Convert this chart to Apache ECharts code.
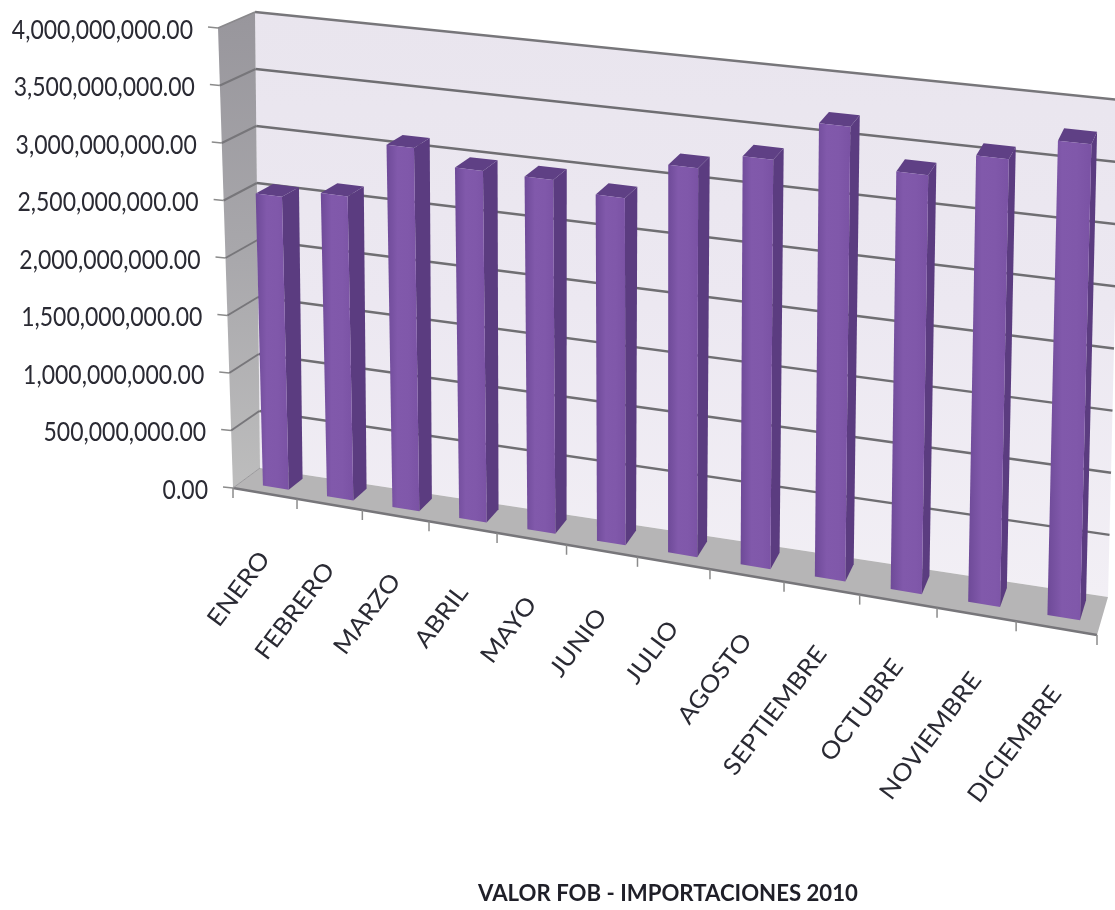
<!DOCTYPE html>
<html><head><meta charset="utf-8">
<style>html,body{margin:0;padding:0;background:#fff}#c{width:1115px;height:910px}</style>
<script src="https://cdn.jsdelivr.net/npm/echarts@6/dist/echarts.min.js"></script>
</head><body><div id="c"></div>
<script>
const categories = ['ENERO','FEBRERO','MARZO','ABRIL','MAYO','JUNIO','JULIO','AGOSTO','SEPTIEMBRE','OCTUBRE','NOVIEMBRE','DICIEMBRE'];
const valorFob = [2540000000,2615000000,3100000000,2975000000,2970000000,2890000000,3210000000,3350000000,3690000000,3370000000,3570000000,3760000000];
const yTicks = [0,500000000,1000000000,1500000000,2000000000,2500000000,3000000000,3500000000,4000000000];
const titleText = 'VALOR FOB - IMPORTACIONES 2010';

// box corners of the 3D frame [x,y]: f=front, b=back; l/r, b(ottom)/t(op)
const FRAME = {
  fbl:[233,488], fbr:[1097,635], ftl:[218,28], ftr:[1110,123],
  bbl:[260,468], bbr:[1108,597], btl:[255,12], btr:[1120,100]
};
const WARP = 1.136, BAR_U0 = 0.345, BAR_U1 = 0.75, D0 = 0.3, D1 = 0.83;
const lerp = (a,b,t)=>[a[0]+(b[0]-a[0])*t, a[1]+(b[1]-a[1])*t];
function proj(u,v,d){
  const t = u/(u+WARP*(1-u));
  const F=FRAME;
  const front = lerp(lerp(F.fbl,F.fbr,t), lerp(F.ftl,F.ftr,t), v);
  const back  = lerp(lerp(F.bbl,F.bbr,t), lerp(F.btl,F.btr,t), v);
  return lerp(front,back,d);
}
// pixel from the cartesian system -> unit coordinates of the frame
function unit(p,cs){ return [(p[0]-cs.x)/cs.width, (cs.y+cs.height-p[1])/cs.height]; }
const poly=(pts,fill)=>({type:'polygon',shape:{points:pts},style:{fill:fill}});
const seg=(a,b,col,w)=>({type:'line',shape:{x1:a[0],y1:a[1],x2:b[0],y2:b[1]},style:{stroke:col,lineWidth:w,fill:null}});
const grad=(x,y,x2,y2,c)=>new echarts.graphic.LinearGradient(x,y,x2,y2,c.map((s,i)=>({offset:i/(c.length-1),color:s})));
const LABEL_COLOR='#2a2a33', FONT='Lato';

function rWalls(params,api){
  const P=proj;
  return {type:'group',children:[
    poly([P(0,0,1),P(1,0,1),P(1,1,1),P(0,1,1)],grad(0,0,0,1,['#e9e5ee','#ece8f1','#f2eff5'])),
    poly([P(0,0,0),P(0,0,1),P(0,1,1),P(0,1,0)],grad(0,0,0,1,['#98969c','#a8a7ab','#bdbdbd'])),
    poly([P(0,0,0),P(1,0,0),P(1,0,1),P(0,0,1)],'#b6b5b6'),
    seg(P(0,1,1),P(1,1,1),'#77767a',2.5),
    seg(P(0,1,0),P(0,1,1),'#8a898c',1.5),
    seg(P(0,0,0),P(1,0,0),'#77767a',2.5),
    seg(P(0,0,0),P(0,0,1),'#9a999c',1)
  ]};
}
function rGrid(params,api){
  const cs=params.coordSys, v=unit(api.coord([0,api.value(0)]),cs)[1];
  const a=proj(0,v,0), b=proj(0,v,1), c=proj(1,v,1);
  const kids=[seg([a[0]-10,a[1]-1],a,'#8b8b8b',1.5)];
  if(v>0&&v<1) kids.push(seg(a,b,'#77767a',2), seg(b,c,'#6f6e72',2.5));
  return {type:'group',children:kids};
}
function rXTicks(params,api){
  const i=api.value(0), u=i/categories.length, a=proj(u,0,0);
  return seg(a,[a[0],a[1]+10],'#8b8b8b',1.5);
}
function rBar(params,api){
  const cs=params.coordSys, p=api.coord([api.value(0),api.value(1)]);
  const bw=api.size([1,0])[0];
  const v=unit(p,cs)[1], u0=(p[0]-bw/2-cs.x+bw*BAR_U0)/cs.width, u1=(p[0]-bw/2-cs.x+bw*BAR_U1)/cs.width;
  const f=(u,vv)=>proj(u,vv,D0), k=(u,vv)=>proj(u,vv,D1);
  return {type:'group',children:[
    poly([f(u1,0),k(u1,0),k(u1,v),f(u1,v)],'#5b3c80'),
    poly([f(u0,v),f(u1,v),k(u1,v),k(u0,v)],'#5f4085'),
    poly([f(u0,0),f(u1,0),f(u1,v),f(u0,v)],grad(0,0,1,0,['#6e4a98','#8159ab','#8058aa','#7a52a4']))
  ]};
}
const fmt=n=>n.toLocaleString('en-US',{minimumFractionDigits:2,maximumFractionDigits:2});
function rYLabel(params,api){
  const cs=params.coordSys, val=api.value(0), v=unit(api.coord([0,val]),cs)[1], a=proj(0,v,0);
  return {type:'text',x:a[0]-25,y:a[1]+2,scaleY:1.2,style:{text:fmt(val),align:'right',verticalAlign:'middle',fontFamily:FONT,fontSize:23,fill:LABEL_COLOR}};
}
function rXLabel(params,api){
  const cs=params.coordSys, i=api.value(0);
  const p=api.coord([i,0]), u=(p[0]-cs.x)/cs.width, a=proj(u,0,0);
  return {type:'text',x:a[0],y:a[1]+61,scaleX:1.08,rotation:53*Math.PI/180,
    style:{text:categories[i],align:'right',verticalAlign:'middle',fontFamily:FONT,fontSize:24,fill:LABEL_COLOR}};
}
const chart=echarts.init(document.getElementById('c'));
chart.setOption({
  animation:false,
  title:{text:titleText,left:663,top:878,textAlign:'center',textStyle:{fontFamily:FONT,fontWeight:'bold',fontSize:22.2,color:'#1f1f28'}},
  grid:{left:233,top:28,width:864,height:460},
  xAxis:{type:'category',data:categories,show:false},
  yAxis:{type:'value',min:0,max:4000000000,interval:500000000,show:false},
  series:[
    {type:'custom',name:'walls',data:[[0,0]],renderItem:rWalls,clip:false,silent:true,z:1},
    {type:'custom',name:'grid',data:yTicks.map(t=>[t]),renderItem:rGrid,clip:false,silent:true,z:2,encode:{y:0}},
    {type:'custom',name:'ticks',data:[...categories.keys(),categories.length].map(i=>[i]),renderItem:rXTicks,clip:false,silent:true,z:2,encode:{x:0}},
    {type:'custom',name:'VALOR FOB',data:valorFob.map((v,i)=>[i,v]),renderItem:rBar,clip:false,silent:true,z:3,encode:{x:0,y:1}},
    {type:'custom',name:'ylabels',data:yTicks.map(t=>[t]),renderItem:rYLabel,clip:false,silent:true,z:4,encode:{y:0}},
    {type:'custom',name:'xlabels',data:categories.map((c,i)=>[i]),renderItem:rXLabel,clip:false,silent:true,z:4,encode:{x:0}}
  ]
});
</script></body></html>
